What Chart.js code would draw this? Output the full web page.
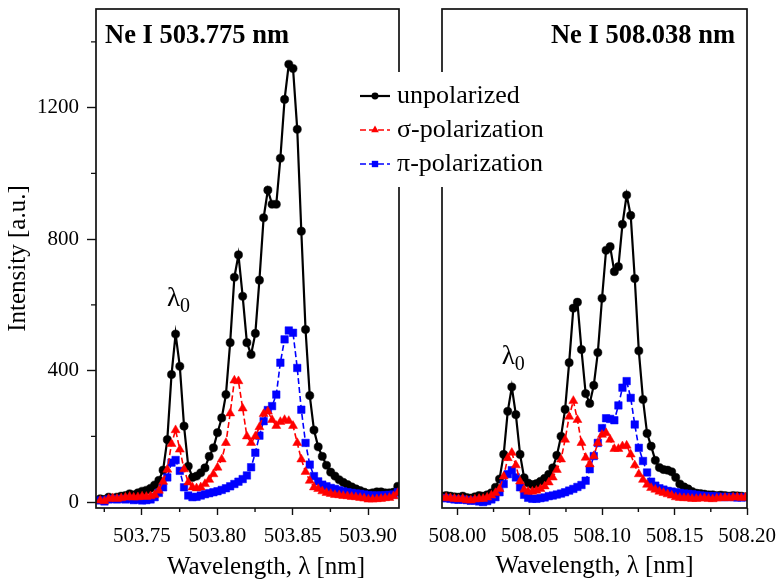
<!DOCTYPE html>
<html>
<head>
<meta charset="utf-8">
<title>Ne I polarization spectra</title>
<script src="https://cdn.jsdelivr.net/npm/chart.js@4.4.1/dist/chart.umd.min.js"></script>
<style>
  html, body { margin: 0; padding: 0; background: #fff; }
  #wrap { position: relative; width: 777px; height: 581px; }
  #wrap canvas { position: absolute; left: 0; top: 0; }
  #left-canvas { z-index: 2; }
</style>
</head>
<body>
<div id="wrap">
  <canvas id="right-canvas" width="777" height="581"></canvas>
  <canvas id="left-canvas" width="777" height="581"></canvas>
</div>
<script>
const FONT = "'Liberation Serif', 'Times New Roman', serif";

// ---- left panel: Ne I 503.775 nm ----
const leftWavelength = [
  503.7223, 503.7251, 503.7279, 503.7306, 503.7334, 503.7362, 503.7390, 503.7418, 503.7445, 503.7473,
  503.7501, 503.7529, 503.7557, 503.7584, 503.7612, 503.7640, 503.7668, 503.7696, 503.7723, 503.7751,
  503.7779, 503.7807, 503.7835, 503.7862, 503.7890, 503.7918, 503.7946, 503.7974, 503.8001, 503.8029,
  503.8057, 503.8085, 503.8113, 503.8140, 503.8168, 503.8196, 503.8224, 503.8252, 503.8279, 503.8307,
  503.8335, 503.8363, 503.8391, 503.8418, 503.8446, 503.8474, 503.8502, 503.8530, 503.8557, 503.8585,
  503.8613, 503.8641, 503.8669, 503.8696, 503.8724, 503.8752, 503.8780, 503.8808, 503.8835, 503.8863,
  503.8891, 503.8919, 503.8947, 503.8974, 503.9002, 503.9030, 503.9058, 503.9086, 503.9113, 503.9141,
  503.9169, 503.9197
];
const leftUnpolarized = [
  10, 8, 15, 12, 15, 18, 20, 25, 22, 28,
  33, 36, 42, 52, 66, 97, 190, 388, 511, 413,
  231, 109, 75, 79, 89, 104, 139, 165, 211, 256,
  327, 485, 684, 752, 626, 485, 449, 513, 675, 865,
  949, 906, 906, 1046, 1225, 1332, 1319, 1134, 824, 525,
  324, 219, 168, 139, 112, 91, 79, 68, 60, 53,
  46, 40, 35, 30, 26, 28, 31, 31, 28, 28,
  30, 48
];
const leftSigma = [
  5, 3, 10, 12, 10, 12, 14, 16, 14, 15,
  17, 16, 18, 22, 35, 62, 99, 177, 219, 160,
  100, 60, 45, 42, 45, 55, 68, 85, 105, 130,
  180, 270, 370, 368, 285, 200, 180, 200, 228, 268,
  276, 250, 232, 244, 250, 247, 232, 180, 130, 92,
  65, 45, 40, 33, 28, 25, 22, 21, 19, 18,
  16, 15, 13, 11, 8, 8, 9, 10, 12, 13,
  18, 28
];
const leftPi = [
  5, 2, 8, 10, 8, 10, 8, 10, 6, 8,
  5, 6, 8, 15, 28, 45, 75, 120, 128, 95,
  45, 20, 15, 16, 20, 24, 27, 30, 33, 37,
  42, 48, 55, 62, 70, 81, 106, 150, 202, 246,
  280, 292, 327, 424, 495, 522, 515, 408, 281, 180,
  114, 79, 63, 53, 48, 43, 40, 36, 33, 30,
  28, 26, 25, 23, 21, 20, 20, 20, 21, 22,
  23, 30
];

// ---- right panel: Ne I 508.038 nm ----
const rightWavelength = [
  507.9895, 507.9923, 507.9952, 507.9980, 508.0008, 508.0037, 508.0065, 508.0093, 508.0121, 508.0150,
  508.0178, 508.0206, 508.0235, 508.0263, 508.0291, 508.0320, 508.0348, 508.0376, 508.0404, 508.0433,
  508.0461, 508.0489, 508.0518, 508.0546, 508.0574, 508.0603, 508.0631, 508.0659, 508.0687, 508.0716,
  508.0744, 508.0772, 508.0801, 508.0829, 508.0857, 508.0886, 508.0914, 508.0942, 508.0970, 508.0999,
  508.1027, 508.1055, 508.1084, 508.1112, 508.1140, 508.1169, 508.1197, 508.1225, 508.1253, 508.1282,
  508.1310, 508.1338, 508.1367, 508.1395, 508.1423, 508.1452, 508.1480, 508.1508, 508.1536, 508.1565,
  508.1593, 508.1621, 508.1650, 508.1678, 508.1706, 508.1735, 508.1763, 508.1791, 508.1819, 508.1848,
  508.1876, 508.1904, 508.1933, 508.1961, 508.1989
];
const rightUnpolarized = [
  18, 20, 18, 16, 15, 18, 14, 12, 16, 20,
  18, 22, 28, 45, 70, 145, 276, 350, 266, 145,
  74, 58, 53, 56, 63, 72, 84, 104, 142, 200,
  282, 424, 590, 608, 464, 330, 300, 355, 455, 620,
  766, 777, 701, 716, 845, 934, 872, 680, 460, 312,
  209, 170, 127, 105, 99, 97, 92, 75, 55, 46,
  40, 32, 27, 26, 24, 22, 22, 20, 21, 20,
  18, 20, 19, 18, 16
];
const rightSigma = [
  12, 14, 12, 10, 9, 10, 6, 5, 8, 10,
  10, 14, 20, 28, 40, 78, 134, 150, 112, 63,
  38, 32, 32, 35, 40, 48, 60, 75, 98, 130,
  190, 260, 308, 250, 180, 135, 115, 140, 180, 205,
  210, 190, 162, 162, 170, 172, 145, 112, 85, 68,
  53, 43, 38, 32, 28, 24, 20, 15, 13, 12,
  12, 10, 10, 11, 12, 10, 9, 11, 12, 13,
  12, 14, 15, 13, 14
];
const rightPi = [
  12, 12, 10, 8, 7, 8, 6, 4, 5, 2,
  0, 3, 8, 15, 30, 55, 85, 97, 75, 45,
  22, 13, 10, 10, 12, 14, 18, 20, 23, 26,
  30, 35, 40, 46, 52, 65, 100, 140, 180, 225,
  255, 253, 249, 294, 348, 368, 317, 236, 165, 125,
  90, 62, 50, 42, 38, 34, 32, 30, 28, 26,
  25, 24, 22, 20, 19, 18, 18, 17, 16, 15,
  16, 15, 14, 14, 15
];

// ---- axes ----
const yTicks = [0, 400, 800, 1200];
const yMinorTicks = [200, 600, 1000, 1400];
const leftXTicks = [503.75, 503.80, 503.85, 503.90];
const leftXMinorTicks = [503.725, 503.775, 503.825, 503.875];
const rightXTicks = [508.00, 508.05, 508.10, 508.15, 508.20];
const rightXMinorTicks = [508.025, 508.075, 508.125, 508.175];

const seriesNames = ["unpolarized", "\u03c3-polarization", "\u03c0-polarization"];

const styles = [
  { color: "#000000", pointStyle: "circle", radius: 4.1, width: 2.2, dash: [], order: 2 },
  { color: "#ff0000", pointStyle: "triangle", radius: 5.2, width: 1.6, dash: [6, 3], order: 0 },
  { color: "#0000ff", pointStyle: "rect", radius: 5.3, width: 1.6, dash: [6, 3], order: 1 },
];

const makeDatasets = (xs, series) => series.map((ys, i) => ({
  label: seriesNames[i],
  data: xs.map((x, j) => ({ x: x, y: ys[j] })),
  borderColor: styles[i].color,
  backgroundColor: styles[i].color,
  borderWidth: styles[i].width,
  borderDash: styles[i].dash,
  pointStyle: styles[i].pointStyle,
  pointRadius: styles[i].radius,
  pointBorderWidth: 0.5,
  tension: 0,
  order: styles[i].order,
}));

// marker like the one chart.js draws, used for the legend
function drawMarker(ctx, st, x, y, r) {
  ctx.beginPath();
  if (st.pointStyle === "circle") {
    ctx.arc(x, y, r, 0, Math.PI * 2);
  } else if (st.pointStyle === "triangle") {
    for (let k = 0; k < 3; k++) {
      const a = k * 2 * Math.PI / 3;
      const px = x + Math.sin(a) * r, py = y - Math.cos(a) * r;
      if (k === 0) ctx.moveTo(px, py); else ctx.lineTo(px, py);
    }
    ctx.closePath();
  } else {
    const s = r * Math.SQRT1_2;
    ctx.rect(x - s, y - s, 2 * s, 2 * s);
  }
  ctx.fillStyle = st.color;
  ctx.fill();
}

function drawLambda(ctx, x, y) {
  ctx.fillStyle = "#000";
  ctx.textAlign = "left";
  ctx.textBaseline = "alphabetic";
  ctx.font = "27px " + FONT;
  ctx.fillText("\u03bb", x, y);
  const w = ctx.measureText("\u03bb").width;
  ctx.font = "20px " + FONT;
  ctx.fillText("0", x + w, y + 6);
}

const panelDecor = {
  id: "panelDecor",
  afterDraw(chart, args, opts) {
    const { ctx, chartArea: a } = chart;
    const xs = chart.scales.x, ys = chart.scales.y;
    ctx.save();

    // frame
    ctx.strokeStyle = "#111";
    ctx.lineWidth = 1.7;
    ctx.strokeRect(a.left, a.top, a.right - a.left, a.bottom - a.top);

    // minor ticks
    ctx.lineWidth = 1.4;
    ctx.beginPath();
    (opts.xMinor || []).forEach((v) => {
      const px = xs.getPixelForValue(v);
      ctx.moveTo(px, a.bottom); ctx.lineTo(px, a.bottom + 4);
    });
    (opts.yMinor || []).forEach((v) => {
      const py = ys.getPixelForValue(v);
      ctx.moveTo(a.left, py); ctx.lineTo(a.left - 5, py);
    });
    ctx.stroke();

    // panel title
    ctx.fillStyle = "#000";
    ctx.font = "bold 26.5px " + FONT;
    ctx.textBaseline = "alphabetic";
    if (opts.titleAlign === "right") {
      ctx.textAlign = "right";
      ctx.fillText(opts.title, a.right - 12, a.top + 34);
    } else {
      ctx.textAlign = "left";
      ctx.fillText(opts.title, a.left + 9, a.top + 34);
    }

    // lambda_0 label
    if (opts.lambda) {
      drawLambda(ctx, xs.getPixelForValue(opts.lambda[0]), ys.getPixelForValue(opts.lambda[1]));
    }

    // x axis title drawn off-centre as in the original
    if (opts.xTitle) {
      ctx.font = "25px " + FONT;
      ctx.textAlign = "center";
      ctx.textBaseline = "middle";
      ctx.fillStyle = "#000";
      ctx.fillText(opts.xTitle, a.left + 170, 567);
    }

    // legend, sitting over the gap between the panels
    if (opts.legend) {
      ctx.fillStyle = "#fff";
      ctx.fillRect(355, 72, 205, 115);
      const rows = [96, 130, 164];
      chart.data.datasets.forEach((ds, i) => {
        const st = styles[i], y = rows[i];
        ctx.strokeStyle = st.color;
        ctx.lineWidth = st.width;
        ctx.setLineDash(st.dash);
        ctx.beginPath();
        ctx.moveTo(360, y); ctx.lineTo(390, y);
        ctx.stroke();
        ctx.setLineDash([]);
        drawMarker(ctx, st, 375, y, st.radius * 0.85);
        ctx.fillStyle = "#000";
        ctx.font = "26px " + FONT;
        ctx.textAlign = "left";
        ctx.textBaseline = "middle";
        ctx.fillText(ds.label, 397, y);
      });
    }
    ctx.restore();
  },
};

const tickFont = { family: FONT, size: 21 };

function makeChart(canvasId, xs, series, cfg) {
  return new Chart(document.getElementById(canvasId), {
    type: "line",
    data: { datasets: makeDatasets(xs, series) },
    plugins: [panelDecor],
    options: {
      responsive: false,
      animation: false,
      devicePixelRatio: 1,
      layout: { padding: cfg.padding },
      plugins: {
        legend: { display: false },
        tooltip: { enabled: false },
        panelDecor: cfg.decor,
      },
      scales: {
        x: {
          type: "linear",
          min: cfg.xMin,
          max: cfg.xMax,
          afterBuildTicks: (scale) => { scale.ticks = cfg.xTicks.map((v) => ({ value: v })); },
          afterFit: (scale) => {
            scale.height = 73;
            scale.paddingLeft = 0;
            scale.paddingRight = 0;
          },
          ticks: {
            color: "#000",
            font: tickFont,
            padding: 9,
            maxRotation: 0,
            autoSkip: false,
            callback: (v) => Number(v).toFixed(2),
          },
          grid: { drawOnChartArea: false, drawTicks: true, tickLength: 7, tickColor: "#111", tickWidth: 1.4 },
          border: { display: false },
          title: cfg.xTitle
            ? { display: true, text: cfg.xTitle, color: "#000", font: { family: FONT, size: 25 }, padding: { top: 0, bottom: 0 } }
            : { display: false },
        },
        y: {
          min: -18,
          max: 1500,
          afterBuildTicks: (scale) => { scale.ticks = yTicks.map((v) => ({ value: v })); },
          afterFit: (scale) => {
            scale.width = cfg.yWidth;
            scale.paddingTop = 0;
            scale.paddingBottom = 0;
          },
          ticks: {
            display: cfg.yLabels,
            color: "#000",
            font: tickFont,
            padding: 8,
            callback: (v) => String(v),
          },
          grid: { display: cfg.yLabels, drawOnChartArea: false, drawTicks: true, tickLength: 9, tickColor: "#111", tickWidth: 1.4 },
          border: { display: false },
          title: cfg.yLabels
            ? { display: true, text: "Intensity [a.u.]", color: "#000", font: { family: FONT, size: 25 }, padding: { top: 3, bottom: 0 } }
            : { display: false },
        },
      },
    },
  });
}

makeChart("right-canvas", rightWavelength, [rightUnpolarized, rightSigma, rightPi], {
  padding: { left: 400, right: 30, top: 9, bottom: 0 },
  xMin: 507.9894, xMax: 508.2,
  xTicks: rightXTicks,
  xTitle: "Wavelength, \u03bb [nm]",
  yWidth: 42,
  yLabels: false,
  decor: {
    title: "Ne I 508.038 nm",
    titleAlign: "right",
    xMinor: rightXMinorTicks,
    lambda: [508.0306, 420],
  },
});

makeChart("left-canvas", leftWavelength, [leftUnpolarized, leftSigma, leftPi], {
  padding: { left: 0, right: 378, top: 9, bottom: 0 },
  xMin: 503.7195, xMax: 503.9205,
  xTicks: leftXTicks,
  xTitle: null,
  yWidth: 96,
  yLabels: true,
  decor: {
    title: "Ne I 503.775 nm",
    titleAlign: "left",
    xMinor: leftXMinorTicks,
    yMinor: yMinorTicks,
    lambda: [503.7666, 598],
    xTitle: "Wavelength, \u03bb [nm]",
    legend: true,
  },
});
</script>
</body>
</html>
